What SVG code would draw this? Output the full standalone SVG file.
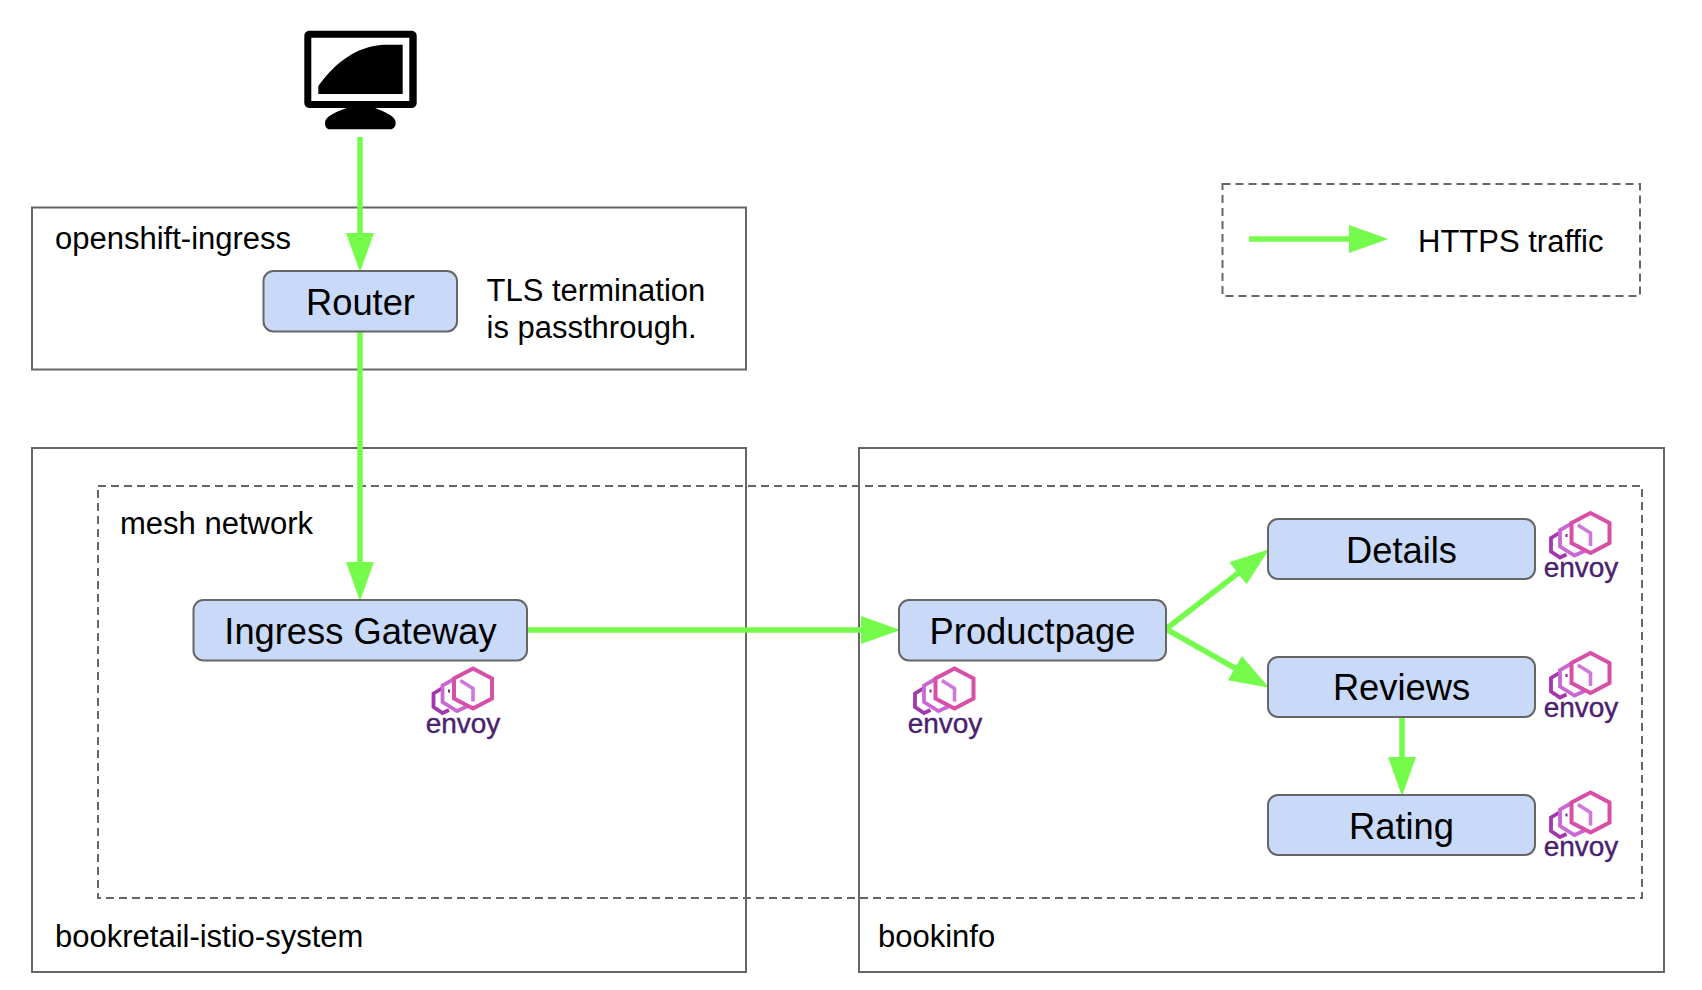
<svg xmlns="http://www.w3.org/2000/svg" width="1702" height="990" viewBox="0 0 1702 990">
<style>
text{font-family:"Liberation Sans",Arial,sans-serif;fill:#000}
.box{fill:none;stroke:#666;stroke-width:2}
.dash{fill:none;stroke:#666;stroke-width:2;stroke-dasharray:8 5}
.node{fill:#c9daf8;stroke:#666;stroke-width:2}
.lbl{font-size:31px}
.nt{font-size:36.300px;text-anchor:middle}
.conn{fill:none;stroke:#75fb4c;stroke-width:5.500;marker-end:url(#head)}
.ev{font-size:28px;text-anchor:middle;fill:#4a2170;stroke:#4a2170;stroke-width:.4}
.hb{fill:none;stroke:#d84fa8;stroke-width:4;stroke-linejoin:miter}
.hi{fill:none;stroke:#cf78dc;stroke-width:3.600}
.hm{fill:none;stroke:#c968d4;stroke-width:3.800}
.hk{fill:none;stroke:#a338ae;stroke-width:3.800}
.hd{fill:none;stroke:#7a2a90;stroke-width:2}
</style>
<defs>
<marker id="head" markerUnits="userSpaceOnUse" markerWidth="40" markerHeight="28" viewBox="0 0 38 27" refX="2" refY="13.500" orient="auto"><path d="M0 0L38 13.500L0 27Z" fill="#75fb4c"/></marker>
<g id="envoy-mark">
<path class="hk" d="M-30.500 -.5L-39.500 5V18.500L-30.500 24.500L-24 21.500"/>
<path class="hm" d="M-19 -9.500L-30.500 -3V13.500L-16 22.500L-5 17.500"/>
<path class="hd" d="M-24 1V4M-17 11L-15 13.500"/>
<path class="hi" d="M-12.700 -8L0 0V13"/>
<path class="hb" d="M0 -20L19 -10V10L0 20L-19 10V-10Z"/>
</g>
</defs>
<rect width="1702" height="990" fill="#fff"/>
<g id="containers">
<rect id="openshift-ingress" class="box" x="32" y="207.500" width="714" height="162"/>
<rect id="bookretail-istio-system" class="box" x="32" y="448" width="714" height="524"/>
<rect id="bookinfo" class="box" x="859" y="448" width="805" height="524"/>
<rect id="mesh-network" class="dash" x="98" y="486" width="1544" height="412"/>
<rect id="legend" class="dash" x="1222.500" y="184" width="417.500" height="112"/>
</g>
<g id="labels">
<text class="lbl" x="55" y="249">openshift-ingress</text>
<text class="lbl" x="486.500" y="301">TLS termination</text>
<text class="lbl" x="486.500" y="338">is passthrough.</text>
<text class="lbl" x="120" y="534">mesh network</text>
<text class="lbl" x="55" y="947">bookretail-istio-system</text>
<text class="lbl" x="878" y="947">bookinfo</text>
<text class="lbl" x="1418" y="252">HTTPS traffic</text>
</g>
<g id="monitor">
<path fill-rule="evenodd" d="M309 30.700H412A5 5 0 0 1 416.700 35.700V103A5 5 0 0 1 412 108H309A5 5 0 0 1 304.300 103V35.700A5 5 0 0 1 309 30.700ZM311.300 37.700V101H409.300V37.700Z"/>
<path d="M318.300 94V86C335 62 358 46 383.300 44.700H402.700V94Z"/>
<path d="M346.700 108H375C385 112 396 116 395.700 123C395.700 127 393 129.300 390 129.300H330C327 129.300 325 127 325 123C325 116 336 112 346.700 108Z"/>
</g>
<g id="connectors">
<path class="conn" d="M360 137V235"/>
<path class="conn" d="M360 332V564"/>
<path class="conn" d="M527 630H863"/>
<path class="conn" d="M1166 629L1239.600 572"/>
<path class="conn" d="M1166 629L1236.700 669.200"/>
<path class="conn" d="M1402 717V759"/>
<path class="conn" d="M1249 239H1351"/>
</g>
<g id="node-router">
<rect class="node" x="263.500" y="271" width="193.500" height="60.500" rx="10"/>
<text class="nt" x="360.500" y="315">Router</text>
</g>
<g id="node-ingress-gateway">
<rect class="node" x="193.500" y="600" width="333.500" height="60.500" rx="10"/>
<text class="nt" x="360.500" y="644">Ingress Gateway</text>
<use href="#envoy-mark" x="473" y="688.500"/>
<text class="ev" x="463" y="732.500">envoy</text>
</g>
<g id="node-productpage">
<rect class="node" x="899" y="600" width="267" height="60.500" rx="10"/>
<text class="nt" x="1032.500" y="644">Productpage</text>
<use href="#envoy-mark" x="954.500" y="688.500"/>
<text class="ev" x="945" y="732.500">envoy</text>
</g>
<g id="node-details">
<rect class="node" x="1268" y="519" width="267" height="60" rx="10"/>
<text class="nt" x="1401.500" y="563">Details</text>
<use href="#envoy-mark" x="1590.500" y="533"/>
<text class="ev" x="1581" y="576.500">envoy</text>
</g>
<g id="node-reviews">
<rect class="node" x="1268" y="657" width="267" height="60" rx="10"/>
<text class="nt" x="1401.500" y="700">Reviews</text>
<use href="#envoy-mark" x="1590.500" y="673"/>
<text class="ev" x="1581" y="716.500">envoy</text>
</g>
<g id="node-rating">
<rect class="node" x="1268" y="795" width="267" height="60" rx="10"/>
<text class="nt" x="1401.500" y="839">Rating</text>
<use href="#envoy-mark" x="1590.500" y="812.500"/>
<text class="ev" x="1581" y="856">envoy</text>
</g>
</svg>
